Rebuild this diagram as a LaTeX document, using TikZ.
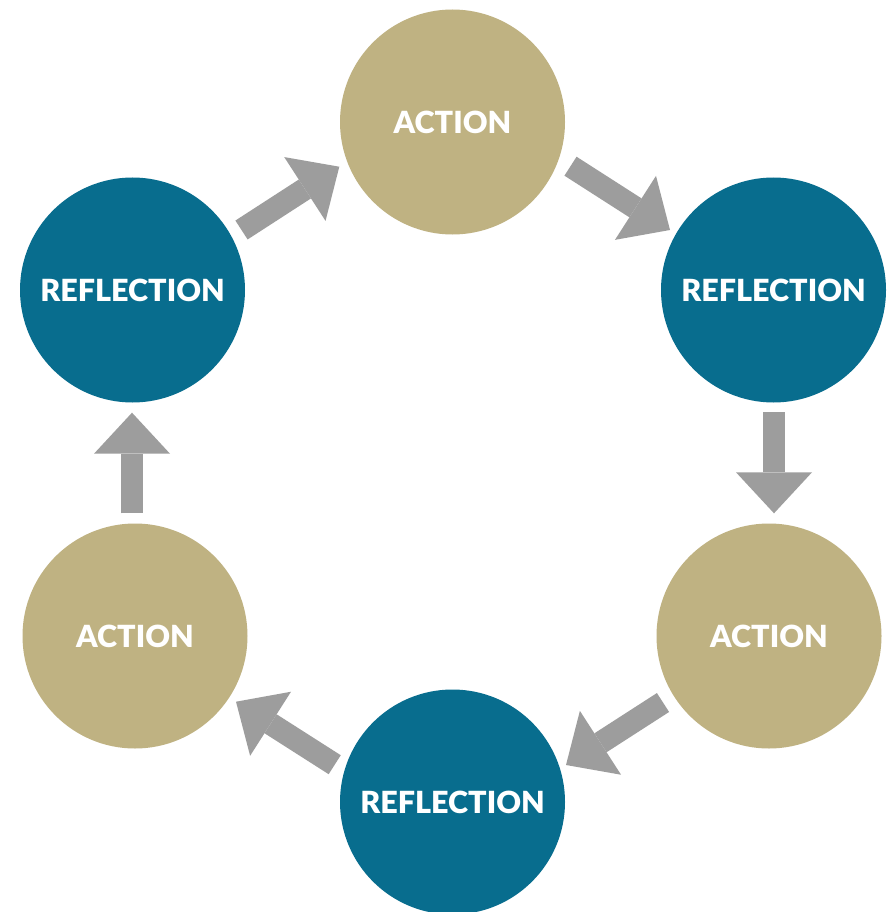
\documentclass[tikz,border=0pt]{standalone}
\usepackage{fontspec}
\setsansfont{Lato}[BoldFont={Lato Black}]
\usetikzlibrary{arrows.meta}
\definecolor{gold}{HTML}{BFB282}
\definecolor{teal}{HTML}{086D8E}
\definecolor{arrowgray}{HTML}{9D9D9D}
\tikzset{
  stage/.style={circle, minimum size=225pt, inner sep=0pt, text=white,
    font=\sffamily\bfseries\fontsize{30.5}{32}\selectfont},
  actionstage/.style={stage, fill=gold},
  reflectstage/.style={stage, fill=teal},
  blockarrow/.style={draw=arrowgray, line width=22.5pt,
    -{Triangle[width=76pt,length=41pt,line width=0pt,fill=arrowgray]}}
}
\begin{document}
\begin{tikzpicture}[x=1pt,y=-1pt]
\clip (0,0) rectangle (891,912);
\fill[white] (0,0) rectangle (891,912);
\node[actionstage]  (a1) at (452.5,122) {ACTION};
\node[reflectstage] (r1) at (773.5,290) {REFLECTION};
\node[actionstage]  (a2) at (769,636) {ACTION};
\node[reflectstage] (r2) at (452.5,802) {REFLECTION};
\node[actionstage]  (a3) at (135,636) {ACTION};
\node[reflectstage] (r3) at (132.5,290) {REFLECTION};
\coordinate (t1) at (241.5,230);  \coordinate (h1) at (339.3,166.7);
\coordinate (t2) at (570.5,166.2); \coordinate (h2) at (670,230);
\coordinate (t3) at (774,412);    \coordinate (h3) at (774,513.3);
\coordinate (t4) at (663,702.5);  \coordinate (h4) at (566,765);
\coordinate (t5) at (334.7,764.7); \coordinate (h5) at (236,701.7);
\coordinate (t6) at (132,513.3);  \coordinate (h6) at (132,412.7);
\draw[blockarrow] (t1) -- (h1);
\draw[blockarrow] (t2) -- (h2);
\draw[blockarrow] (t3) -- (h3);
\draw[blockarrow] (t4) -- (h4);
\draw[blockarrow] (t5) -- (h5);
\draw[blockarrow] (t6) -- (h6);
\end{tikzpicture}
\end{document}
